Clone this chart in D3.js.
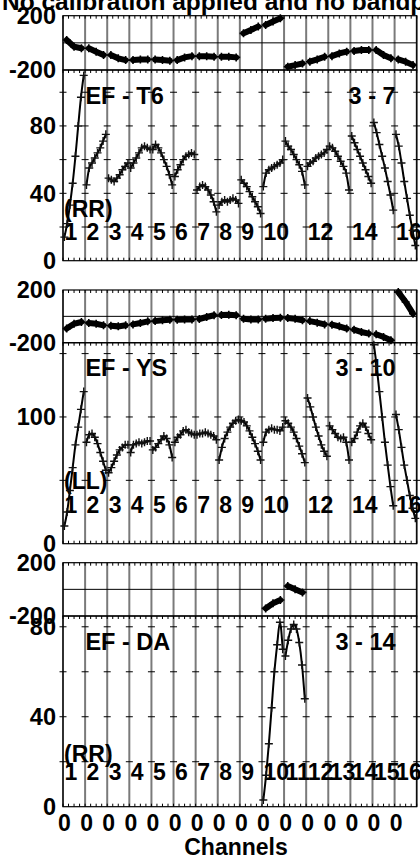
<!DOCTYPE html>
<html><head><meta charset="utf-8">
<script src="https://cdn.jsdelivr.net/npm/d3@7"></script>
<style>html,body{margin:0;padding:0;background:#fff;overflow:hidden}</style>
</head><body><svg id="c" width="420" height="862"></svg>
<script>
// ---------------- DATA ----------------
const title = "No calibration applied and no bandpass applied";
const ifNumbers = [1,2,3,4,5,6,7,8,9,10,11,12,13,14,15,16];
const xTickLabels = ["0","0","0","0","0","0","0","0","0","0","0","0","0","0","0","0"];
const xAxisTitle = "Channels";
const baselineNames = ["EF - T6", "EF - YS", "EF - DA"];
const timeLabels = ["3 - 7", "3 - 10", "3 - 14"];
const stokesLabels = ["(RR)", "(LL)", "(RR)"];
const shownIF = [
  [1,2,3,4,5,6,7,8,9,10,12,14,16],
  [1,2,3,4,5,6,7,8,9,10,12,14,16],
  [1,2,3,4,5,6,7,8,9,10,11,12,13,14,15,16]
];
const phaseTickLabels = ["200", "-200"];
const ampTickLabels1 = [80, 40, 0];
const ampTickLabels2 = [100, 0];
const ampTickLabels3 = [80, 40, 0];
const ampMinorTicks1 = [20, 40, 60, 80, 100];
const ampMinorTicks2 = [50, 100, 150];
const ampMinorTicks3 = [20, 40, 60, 80];
const ampMax = [113.2, 158.6, 84.8];

// amplitude per IF (channels sampled across each IF)
const amp_EF_T6 = [
  [14, 22, 33, 46, 62, 80, 97, 110],
  [45, 55, 58, 61, 64, 67, 71, 75],
  [49, 48, 47, 49, 51, 54, 56, 58],
  [55, 58, 61, 64, 67, 68, 67, 66],
  [66, 69, 67, 64, 60, 56, 51, 45],
  [50, 54, 57, 60, 62, 63, 64, 63],
  [42, 44, 45, 44, 42, 39, 35, 29],
  [33, 35, 36, 35, 36, 37, 36, 34],
  [48, 46, 44, 41, 38, 35, 32, 28],
  [44, 52, 54, 55, 56, 57, 58, 60],
  [71, 68, 66, 63, 60, 57, 53, 45],
  [56, 58, 59, 61, 62, 63, 64, 66],
  [68, 67, 65, 62, 59, 56, 52, 42],
  [74, 70, 66, 62, 58, 54, 50, 46],
  [82, 76, 69, 62, 55, 47, 39, 30],
  [75, 68, 58, 47, 37, 27, 18, 9]
];
const phase_EF_T6 = [
  [21, -28, -40], [-40, -65, -90], [-90, -114, -127], [-127, -122, -122],
  [-122, -127, -132], [-127, -107, -98], [-98, -98, -102], [-102, -102, -107],
  [70, 95, 120], [132, 157, 181], [-176, -164, -152], [-139, -122, -102],
  [-98, -78, -65], [-60, -53, -53], [-53, -90, -114], [-122, -139, -164]
];
const amp_EF_YS = [
  [14, 25, 42, 60, 78, 92, 106, 120],
  [80, 86, 87, 84, 79, 72, 65, 58],
  [56, 60, 65, 70, 74, 76, 78, 78],
  [72, 78, 79, 80, 79, 80, 81, 81],
  [74, 76, 79, 82, 85, 83, 78, 68],
  [80, 84, 86, 89, 90, 88, 87, 86],
  [86, 87, 87, 88, 87, 86, 85, 82],
  [66, 76, 83, 88, 92, 95, 97, 98],
  [97, 96, 93, 89, 84, 79, 73, 66],
  [80, 88, 90, 91, 90, 90, 89, 92],
  [97, 95, 92, 88, 83, 77, 71, 64],
  [115, 108, 100, 92, 85, 78, 73, 69],
  [93, 90, 87, 84, 83, 84, 80, 66],
  [80, 83, 88, 93, 95, 92, 87, 82],
  [157, 140, 120, 100, 80, 62, 45, 30],
  [102, 90, 76, 62, 50, 38, 28, 20]
];
const phase_EF_YS = [
  [-93, -56, -43], [-51, -56, -68], [-71, -76, -68], [-61, -51, -38],
  [-36, -30, -25], [-25, -23, -23], [-20, -5, 8], [10, 13, 8],
  [-18, -23, -23], [-18, -13, -10], [-13, -18, -30], [-36, -48, -61],
  [-63, -76, -93], [-101, -119, -131], [-136, -157, -182], [184, 109, 20]
];
const amp_EF_DA = [
  null, null, null, null, null, null, null, null, null,
  [3, 14, 28, 44, 60, 72, 82, 70],
  [67, 74, 79, 81, 79, 73, 63, 48],
  null, null, null, null, null
];
const phase_EF_DA = [
  null, null, null, null, null, null, null, null, null,
  [-143, -105, -80],
  [25, 0, -23],
  null, null, null, null, null
];

// ---------------- LAYOUT ----------------
const svg = d3.select("#c");
const FONT = "'Liberation Sans', Arial, Helvetica, sans-serif";
const x = d3.scaleLinear().domain([0, 16]).range([63, 416.7]);

const panels = [
  {phTop: 15.7, phBot: 70, ampBot: 260.7, amp: amp_EF_T6, ph: phase_EF_T6, ampLabels: ampTickLabels1, minor: ampMinorTicks1, chanY: 240, stokesY: 216.5},
  {phTop: 290, phBot: 342.7, ampBot: 543.7, amp: amp_EF_YS, ph: phase_EF_YS, ampLabels: ampTickLabels2, minor: ampMinorTicks2, chanY: 513, stokesY: 488.5},
  {phTop: 562.7, phBot: 616, ampBot: 806.7, amp: amp_EF_DA, ph: phase_EF_DA, ampLabels: ampTickLabels3, minor: ampMinorTicks3, chanY: 780, stokesY: 761.5}
];

svg.append("text").attr("x", 2).attr("y", 9.5)
  .attr("font-family", FONT).attr("font-weight", "bold").attr("font-size", 24.5)
  .text(title);

function plus(g, px, py, s, w, col) {
  g.append("path").attr("d", `M${px - s},${py}H${px + s}M${px},${py - s}V${py + s}`)
    .attr("stroke", col).attr("stroke-width", w).attr("fill", "none");
}

panels.forEach((p, pi) => {
  const g = svg.append("g");
  const yPh = d3.scaleLinear().domain([-200, 200]).range([p.phBot, p.phTop]);
  const yA = d3.scaleLinear().domain([0, ampMax[pi]]).range([p.ampBot, p.phBot]);
  const L = x(0), R = x(16);

  // IF separator lines
  d3.range(0, 17).forEach(i => {
    g.append("line").attr("x1", x(i)).attr("x2", x(i)).attr("y1", p.phTop).attr("y2", p.ampBot)
      .attr("stroke", "#7a7a7a").attr("stroke-width", 2);
  });
  // phase zero line
  g.append("line").attr("x1", L).attr("x2", R).attr("y1", yPh(0)).attr("y2", yPh(0))
    .attr("stroke", "#000").attr("stroke-width", 1);
  // frames
  g.append("rect").attr("x", L).attr("y", p.phTop).attr("width", R - L).attr("height", p.phBot - p.phTop)
    .attr("fill", "none").attr("stroke", "#000").attr("stroke-width", 1.2);
  g.append("rect").attr("x", L).attr("y", p.phBot).attr("width", R - L).attr("height", p.ampBot - p.phBot)
    .attr("fill", "none").attr("stroke", "#000").attr("stroke-width", 1.2);
  // minor x ticks
  d3.range(0, 65).forEach(j => {
    const xx = x(j / 4);
    [[p.phTop, 3], [p.phBot, 3], [p.ampBot, -3]].forEach(([yy, d]) => {
      g.append("line").attr("x1", xx).attr("x2", xx).attr("y1", yy).attr("y2", yy + d)
        .attr("stroke", "#000").attr("stroke-width", 1);
    });
  });
  // amplitude cross dashes
  p.minor.forEach(v => {
    d3.range(0, 17).forEach(i => {
      g.append("line").attr("x1", x(i) - 3.5).attr("x2", x(i) + 3.5).attr("y1", yA(v)).attr("y2", yA(v))
        .attr("stroke", "#000").attr("stroke-width", 1);
    });
  });

  // y labels
  const lab = (t, yy) => g.append("text").attr("x", 56).attr("y", yy + 8.3)
    .attr("text-anchor", "end").attr("font-family", FONT).attr("font-weight", "bold")
    .attr("font-size", 23.5).text(t);
  lab(phaseTickLabels[0], yPh(200));
  lab(phaseTickLabels[1], yPh(-200));
  p.ampLabels.forEach(v => lab(String(v), yA(v)));

  // text labels
  const txt = (t, xx, yy, anchor, size) => g.append("text").attr("x", xx).attr("y", yy)
    .attr("text-anchor", anchor).attr("font-family", FONT).attr("font-weight", "bold")
    .attr("font-size", size).text(t);
  txt(baselineNames[pi], x(1) + 0.3, p.phBot + 33.5, "start", 23.5);
  txt(timeLabels[pi], x(15) + 1, p.phBot + 33.5, "end", 23.5);
  txt(stokesLabels[pi], 64, p.stokesY, "start", 23);
  shownIF[pi].forEach(n => txt(String(n), x(n - 1) + 1.5, p.chanY, "start", 23));

  // phase data
  p.ph.forEach((vals, i) => {
    if (!vals) return;
    const pts = vals.map((v, k) => [x(i + (k + 0.5) / vals.length), yPh(v)]);
    g.append("path").attr("d", d3.line()(pts)).attr("fill", "none")
      .attr("stroke", "#000").attr("stroke-width", 6).attr("stroke-linecap", "round");
    pts.forEach(q => plus(g, q[0], q[1], 4, 1.6, "#000"));
  });
  // amplitude data
  p.amp.forEach((vals, i) => {
    if (!vals) return;
    const pts = vals.map((v, k) => [x(i + (k + 0.5) / vals.length), yA(v)]);
    g.append("path").attr("d", d3.line().curve(d3.curveMonotoneX)(pts)).attr("fill", "none")
      .attr("stroke", "#000").attr("stroke-width", 2);
    pts.forEach(q => plus(g, q[0], q[1], 4, 1.4, "#111"));
  });
});

// bottom axis labels
xTickLabels.forEach((t, i) => {
  svg.append("text").attr("x", x(i) + 1.5).attr("y", 831).attr("text-anchor", "middle")
    .attr("font-family", FONT).attr("font-weight", "bold").attr("font-size", 23).text(t);
});
svg.append("text").attr("x", 236).attr("y", 855).attr("text-anchor", "middle")
  .attr("font-family", FONT).attr("font-weight", "bold").attr("font-size", 23).text(xAxisTitle);
</script>
</body></html>
